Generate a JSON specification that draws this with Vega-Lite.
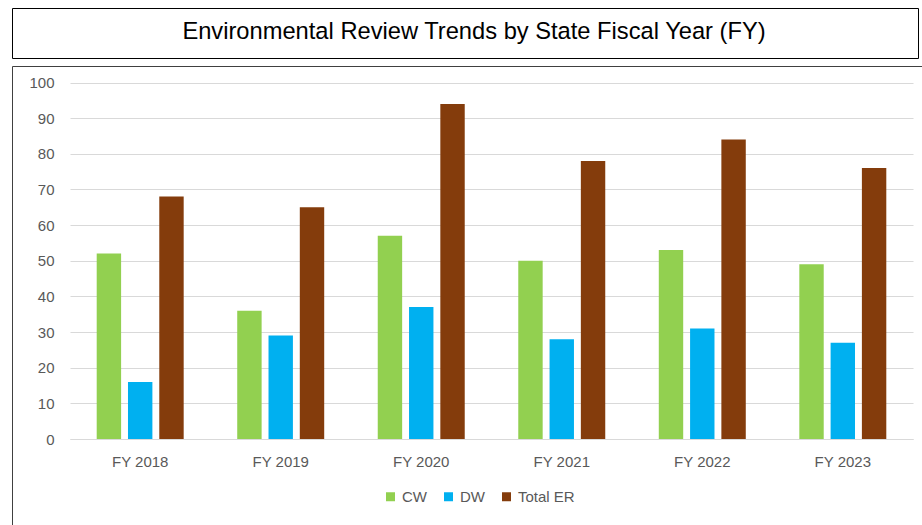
{
  "$schema": "https://vega.github.io/schema/vega-lite/v6.json",
  "padding": {"left": 11, "top": 7, "right": 0, "bottom": 0},
  "background": "white",
  "spacing": 6,
  "config": {"font": "Liberation Sans"},
  "vconcat": [
    {
      "width": 906,
      "height": 50,
      "view": {"stroke": "#000000", "strokeWidth": 1},
      "data": {"values": [{"title": "Environmental Review Trends by State Fiscal Year (FY)"}]},
      "mark": {"type": "text", "fontSize": 23.7, "font": "Liberation Sans", "color": "#000000", "dx": 9, "dy": -1, "baseline": "middle", "align": "center"},
      "encoding": {"text": {"field": "title", "type": "nominal"}}
    },
    {
      "width": 915,
      "height": 464,
      "view": {"stroke": "#404040", "strokeWidth": 1},
      "data": {
        "values": [
          {"year": "FY 2018", "series": "CW", "value": 52},
          {"year": "FY 2018", "series": "DW", "value": 16},
          {"year": "FY 2018", "series": "Total ER", "value": 68},
          {"year": "FY 2019", "series": "CW", "value": 36},
          {"year": "FY 2019", "series": "DW", "value": 29},
          {"year": "FY 2019", "series": "Total ER", "value": 65},
          {"year": "FY 2020", "series": "CW", "value": 57},
          {"year": "FY 2020", "series": "DW", "value": 37},
          {"year": "FY 2020", "series": "Total ER", "value": 94},
          {"year": "FY 2021", "series": "CW", "value": 50},
          {"year": "FY 2021", "series": "DW", "value": 28},
          {"year": "FY 2021", "series": "Total ER", "value": 78},
          {"year": "FY 2022", "series": "CW", "value": 53},
          {"year": "FY 2022", "series": "DW", "value": 31},
          {"year": "FY 2022", "series": "Total ER", "value": 84},
          {"year": "FY 2023", "series": "CW", "value": 49},
          {"year": "FY 2023", "series": "DW", "value": 27},
          {"year": "FY 2023", "series": "Total ER", "value": 76}
        ]
      },
      "mark": {"type": "bar"},
      "encoding": {
        "x": {
          "field": "year",
          "type": "nominal",
          "sort": null,
          "scale": {"range": [58, 901], "paddingInner": 0.381, "paddingOuter": 0.19},
          "axis": {
            "title": null,
            "offset": -91,
            "domain": true,
            "domainColor": "#d9d9d9",
            "domainWidth": 1,
            "ticks": false,
            "grid": false,
            "labelAngle": 0,
            "labelPadding": 15,
            "labelFontSize": 15,
            "labelColor": "#595959"
          }
        },
        "xOffset": {
          "field": "series",
          "type": "nominal",
          "sort": ["CW", "DW", "Total ER"],
          "scale": {"paddingInner": 0.22, "paddingOuter": 0}
        },
        "y": {
          "field": "value",
          "type": "quantitative",
          "scale": {"domain": [0, 100], "range": [373, 16.5], "nice": false, "zero": true},
          "axis": {
            "title": null,
            "offset": -58,
            "values": [0, 10, 20, 30, 40, 50, 60, 70, 80, 90, 100],
            "domain": false,
            "ticks": false,
            "grid": true,
            "gridColor": "#d9d9d9",
            "gridWidth": 1,
            "labelPadding": 16,
            "labelFontSize": 15,
            "labelColor": "#595959"
          }
        },
        "color": {
          "field": "series",
          "type": "nominal",
          "scale": {"domain": ["CW", "DW", "Total ER"], "range": ["#92D050", "#00B0F0", "#843C0C"]},
          "legend": {
            "title": null,
            "orient": "none",
            "legendX": 371,
            "legendY": 481,
            "direction": "horizontal",
            "symbolType": "square",
            "symbolSize": 81,
            "symbolStrokeWidth": 0,
            "labelFontSize": 15,
            "labelColor": "#595959",
            "labelOffset": 4,
            "columnPadding": 14,
            "padding": 0
          }
        }
      }
    }
  ]
}
